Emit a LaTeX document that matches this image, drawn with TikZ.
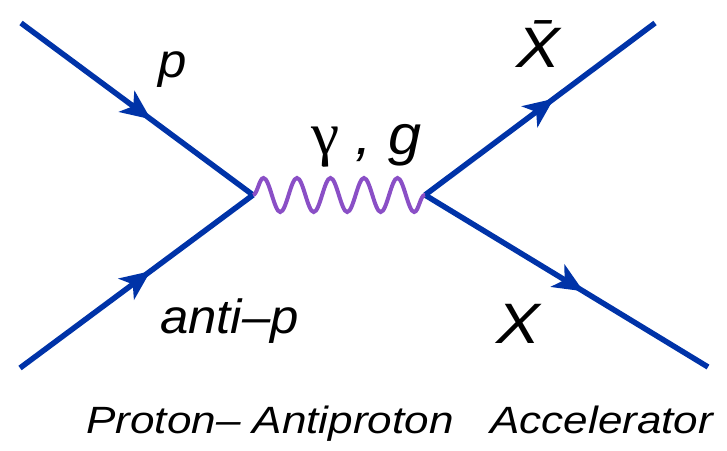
\documentclass[tikz,border=0pt]{standalone}
\usepackage{fontspec}
\setmainfont{Liberation Sans}
\newfontfamily\greekfont{Liberation Serif}
\usetikzlibrary{arrows.meta, decorations.pathmorphing, decorations.markings}
\definecolor{fermblue}{HTML}{0033A8}
\definecolor{bosonpurple}{HTML}{8A4FC6}
\tikzset{
  fermion/.style={draw=fermblue, line width=5.5pt, postaction={decorate},
    decoration={markings, mark=at position 0.56 with {\arrow[fermblue]{Stealth[length=30pt, width=26pt, inset=8pt]}}}},
  boson/.style={draw=bosonpurple, line width=4pt,
    decoration={snake, segment length=33.5pt, amplitude=17pt}, decorate},
  label/.style={inner sep=0pt, anchor=base west, font=\fontsize{48}{50}\selectfont\itshape, xscale=1.06},
  biglabel/.style={label, font=\fontsize{57}{60}\selectfont\itshape, xscale=1.08},
  caption/.style={inner sep=0pt, anchor=base west, font=\fontsize{38}{40}\selectfont\itshape, xscale=1.16}
}
\begin{document}
\begin{tikzpicture}[x=1pt, y=-1pt]
    \useasboundingbox (0,0) rectangle (727,450);

    % 1. Vertices and outer ends
    \coordinate (pin)  at (21,23);
    \coordinate (pbin) at (20,368);
    \coordinate (v1)   at (253,195);
    \coordinate (v2)   at (425,195);
    \coordinate (xbout) at (655,23);
    \coordinate (xout)  at (708,367);

    % 2. Fermion lines
    \draw[fermion] (pin) -- (v1);
    \draw[fermion] (pbin) -- (v1);
    \draw[fermion] (v2) -- (xbout);
    \draw[fermion] (v2) -- (xout);

    % 3. Exchanged boson
    \draw[boson] (v1) -- (v2);

    % 4. Particle labels
    \node[label] (lp)    at (158,77)  {p};
    \node[label] (lpb)   at (160,333) {anti–p};
    \node[label, font=\fontsize{56}{58}\selectfont\itshape] (lgam) at (311,154)
        {{\greekfont\upshape\fontsize{60}{60}\selectfont γ} , g};
    \node[biglabel] (lxb) at (516,67)  {\=X};
    \node[biglabel] (lx)  at (496,343) {X};

    % 5. Caption
    \node[caption] (cap1) at (86,433) {Proton– Antiproton};
    \node[caption] (cap2) at (490,433) {Accelerator};

\end{tikzpicture}
\end{document}
